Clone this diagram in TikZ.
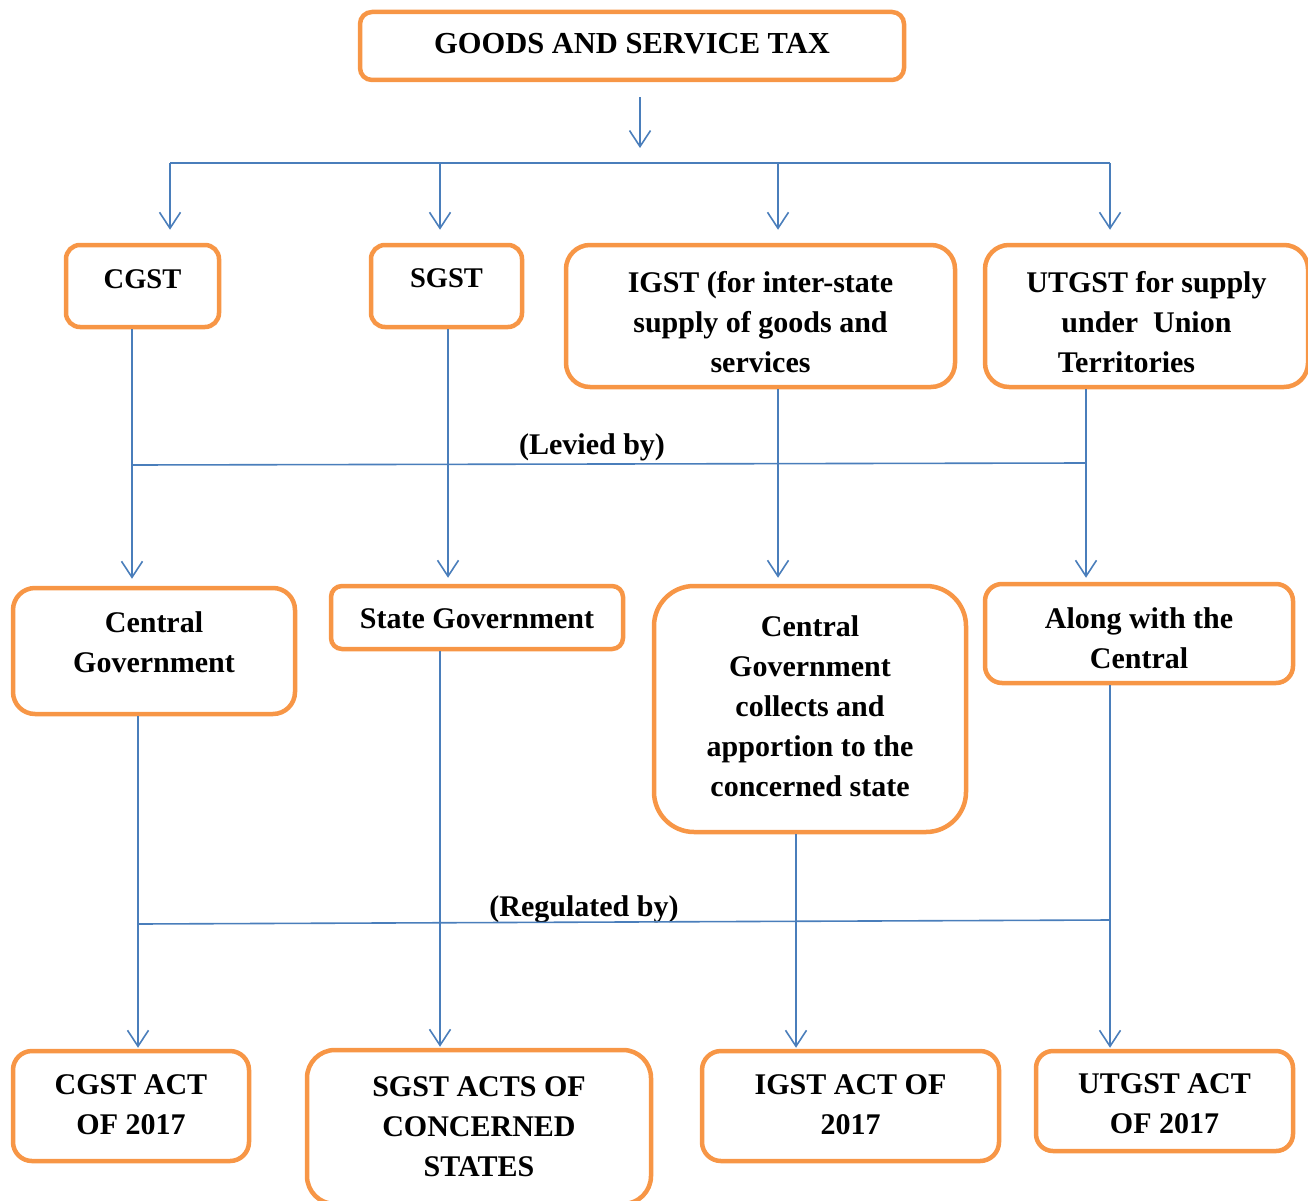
\documentclass[tikz,border=0pt]{standalone}
\usepackage{fontspec}
\setmainfont{Liberation Serif}
\usetikzlibrary{arrows.meta}
\definecolor{boxorange}{HTML}{F79646}
\definecolor{lineblue}{HTML}{4A7EBB}
\newcommand{\bxt}[1]{\begin{tabular}{@{}c@{}}#1\end{tabular}}
\tikzset{
  gbox/.style={draw=boxorange, line width=4.5pt, inner sep=0pt},
  txt/.style={inner sep=0pt, align=center, font=\fontsize{30}{40}\selectfont\bfseries},
  smallfont/.style={font=\fontsize{28.5}{40}\selectfont\bfseries},
  conn/.style={draw=lineblue, line width=1.6pt},
  arr/.style={conn, -{Straight Barb[length=16pt,width=21pt,line width=1.6pt]}},
  lbl/.style={inner sep=0pt, font=\fontsize{30}{40}\selectfont\bfseries}
}
\begin{document}
\begin{tikzpicture}[x=1pt,y=-1pt]
\useasboundingbox (0,0) rectangle (1308,1201);
% boxes
\node[gbox, minimum width=544, minimum height=68, rounded corners=12] (title) at (632,46) {};
\node[gbox, minimum width=153, minimum height=82, rounded corners=14] (cgst) at (142.5,286) {};
\node[gbox, minimum width=151, minimum height=82, rounded corners=14] (sgst) at (446.5,286) {};
\node[gbox, minimum width=389, minimum height=142, rounded corners=24] (igst) at (760.5,316) {};
\node[gbox, minimum width=323, minimum height=142, rounded corners=24] (utgst) at (1146.5,316) {};
\node[gbox, minimum width=282, minimum height=126, rounded corners=22] (cg) at (154,651) {};
\node[gbox, minimum width=292, minimum height=63, rounded corners=11] (sg) at (477,617.5) {};
\node[gbox, minimum width=312, minimum height=246, rounded corners=40] (cc) at (810,709) {};
\node[gbox, minimum width=308, minimum height=99, rounded corners=17] (al) at (1139,633.5) {};
\node[gbox, minimum width=236, minimum height=110, rounded corners=19] (a1) at (131,1106) {};
\node[gbox, minimum width=344, minimum height=154, rounded corners=28] (a2) at (479,1127) {};
\node[gbox, minimum width=297, minimum height=110, rounded corners=19] (a3) at (850.5,1106) {};
\node[gbox, minimum width=257, minimum height=100, rounded corners=17] (a4) at (1164.5,1101) {};
% box texts
\node[txt, font=\fontsize{30.5}{40}\selectfont\bfseries] (titleT) at (632,46) {\bxt{GOODS AND SERVICE TAX}};
\node[txt, smallfont] (cgstT) at (142.5,280) {\bxt{CGST}};
\node[txt, smallfont] (sgstT) at (446.5,279) {\bxt{SGST}};
\node[txt] (igstT) at (760.5,324) {\bxt{IGST (for inter-state\\supply of goods and\\services}};
\node[txt] (utgstT) at (1146.5,324) {\bxt{UTGST for supply\\under\ \ Union\\Territories\hspace*{40pt}}};
\node[txt] (cgT) at (154,644) {\bxt{Central\\Government}};
\node[txt] (sgT) at (477,620.5) {\bxt{State Government}};
\node[txt] (ccT) at (810,708) {\bxt{Central\\Government\\collects and\\apportion to the\\concerned state}};
\node[txt] (alT) at (1139,640.5) {\bxt{Along with the\\Central}};
\node[txt] (a1T) at (131,1106) {\bxt{CGST ACT\\OF 2017}};
\node[txt] (a2T) at (479,1128) {\bxt{SGST ACTS OF\\CONCERNED\\STATES}};
\node[txt] (a3T) at (850.5,1106) {\bxt{IGST ACT OF\\2017}};
\node[txt] (a4T) at (1164.5,1105) {\bxt{UTGST ACT\\OF 2017}};
% labels
\node[lbl] (levied) at (592,447) {(Levied by)};
\node[lbl] (regulated) at (584,909) {(Regulated by)};
% title arrow and bus
\coordinate (t0) at (640,0);
\coordinate (t1) at (640,148);
\draw[arr, shorten <=15pt] (title.south -| t0) -- (t1);
\coordinate (bL) at (170,163);
\coordinate (b2) at (440,163);
\coordinate (b3) at (778,163);
\coordinate (bR) at (1110,163);
\draw[conn] (bL) -- (bR);
\draw[arr, shorten >=13pt] (bL) -- (bL |- cgst.north);
\draw[arr, shorten >=13pt] (b2) -- (b2 |- sgst.north);
\draw[arr, shorten >=13pt] (b3) -- (b3 |- igst.north);
\draw[arr, shorten >=13pt] (bR) -- (bR |- utgst.north);
% level 2 to level 3
\coordinate (x1) at (132,0);
\coordinate (x2) at (448,0);
\coordinate (x3) at (778,0);
\coordinate (x4) at (1086,0);
\draw[arr, shorten >=7pt] (cgst.south -| x1) -- (cg.north -| x1);
\draw[arr, shorten >=6pt] (sgst.south -| x2) -- (sg.north -| x2);
\draw[arr, shorten >=6pt] (igst.south -| x3) -- (cc.north -| x3);
\draw[arr, shorten >=4pt] (utgst.south -| x4) -- (al.north -| x4);
\coordinate (lv1) at (132,465);
\coordinate (lv2) at (1086,463);
\draw[conn] (lv1) -- (lv2);
% level 3 to level 4
\coordinate (y1) at (138,0);
\coordinate (y2) at (440,0);
\coordinate (y3) at (796,0);
\coordinate (y4) at (1110,0);
\draw[arr, shorten >=1pt] (cg.south -| y1) -- (a1.north -| y1);
\draw[arr, shorten >=1pt] (sg.south -| y2) -- (a2.north -| y2);
\draw[arr, shorten >=1pt] (cc.south -| y3) -- (a3.north -| y3);
\draw[arr, shorten >=1pt] (al.south -| y4) -- (a4.north -| y4);
\coordinate (rg1) at (138,924);
\coordinate (rg2) at (1110,920);
\draw[conn] (rg1) -- (rg2);
\end{tikzpicture}
\end{document}
